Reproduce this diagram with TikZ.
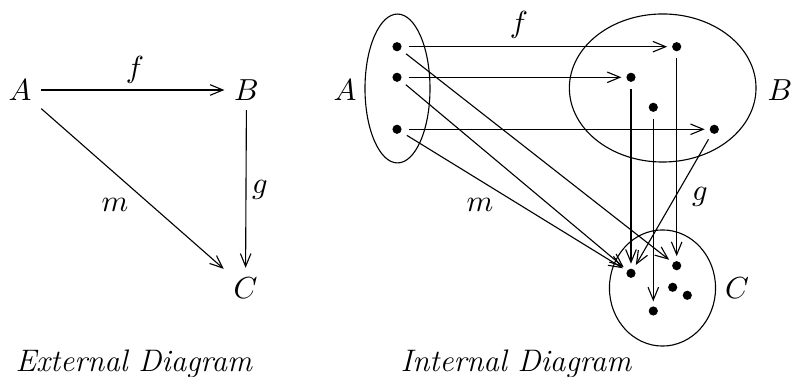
\documentclass[tikz,border=0pt]{standalone}
\usetikzlibrary{arrows.meta,shapes.geometric}
\begin{document}
\begin{tikzpicture}[x=0.36pt,y=-0.36pt,
  every node/.style={font=\fontsize{11.2}{13.5}\selectfont},
  every path/.style={line width=0.4pt},
  arr/.style={-{Straight Barb[length=4.6pt,width=3.8pt]}},
  dot/.style={circle,fill=black,inner sep=0pt,minimum size=3.3pt},
  set/.style={ellipse,draw,inner sep=0pt},
  lbl/.style={inner sep=0pt},
  dd/.style={arr,shorten <=2.3pt,shorten >=1.6pt},
  captxt/.style={anchor=base west,inner sep=0pt,font=\fontsize{11.2}{13.5}\selectfont\itshape}]
\useasboundingbox (0,0) rectangle (792,377);
% ---------- external diagram ----------
\node (A) at (20,90) {$A$};
\node (B) at (246.5,90) {$B$};
\node (C) at (245.5,288) {$C$};
\draw[arr] (A) -- (B);
\draw[arr] (B) -- (C);
\draw[arr] (A) -- (C);
\node[lbl] (fl) at (135,70) {$f$};
\node[lbl] (gl) at (260,190) {$g$};
\node[lbl] (ml) at (115,205) {$m$};
\node[captxt] (ext) at (15,372) {External Diagram};
% ---------- internal diagram ----------
\node[set,minimum width=23.4pt,minimum height=53.6pt] (SA) at (397.5,88.5) {};
\node[set,minimum width=67.2pt,minimum height=53.3pt] (SB) at (662.7,88) {};
\node[set,minimum width=38.2pt,minimum height=41.8pt] (SC) at (662.5,288) {};
\node (LA) at (345,90) {$A$};
\node (LB) at (780,90) {$B$};
\node (LC) at (737,288) {$C$};
\node[lbl] (fr) at (519,25) {$f$};
\node[lbl] (gr) at (700,197) {$g$};
\node[lbl] (mr) at (480,205) {$m$};
% dots of A
\node[dot] (a1) at (397,46.7) {};
\node[dot] (a2) at (397,77.3) {};
\node[dot] (a3) at (397,129.3) {};
% dots of B
\node[dot] (b1) at (676.7,46.7) {};
\node[dot] (b2) at (631,77.3) {};
\node[dot] (b3) at (653.3,107.3) {};
\node[dot] (b4) at (714.3,129.3) {};
% dots of C
\node[dot] (c1) at (631,273.3) {};
\node[dot] (c2) at (676.7,265.7) {};
\node[dot] (c3) at (672.7,287.3) {};
\node[dot] (c4) at (687.3,295.3) {};
\node[dot] (c5) at (653.3,311) {};
% f
\draw[dd] (a1) -- (b1);
\draw[dd] (a2) -- (b2);
\draw[dd] (a3) -- (b4);
% m
\draw[dd] (a1) -- (c2);
\draw[dd] (a2) -- (c1);
\draw[dd] (a3) -- (c1);
% g
\draw[dd] (b1) -- (c2);
\draw[dd] (b2) -- (c1);
\draw[dd] (b3) -- (c5);
\draw[dd] (b4) -- (c1);
\node[captxt] (int) at (400,372) {Internal Diagram};
\end{tikzpicture}
\end{document}
